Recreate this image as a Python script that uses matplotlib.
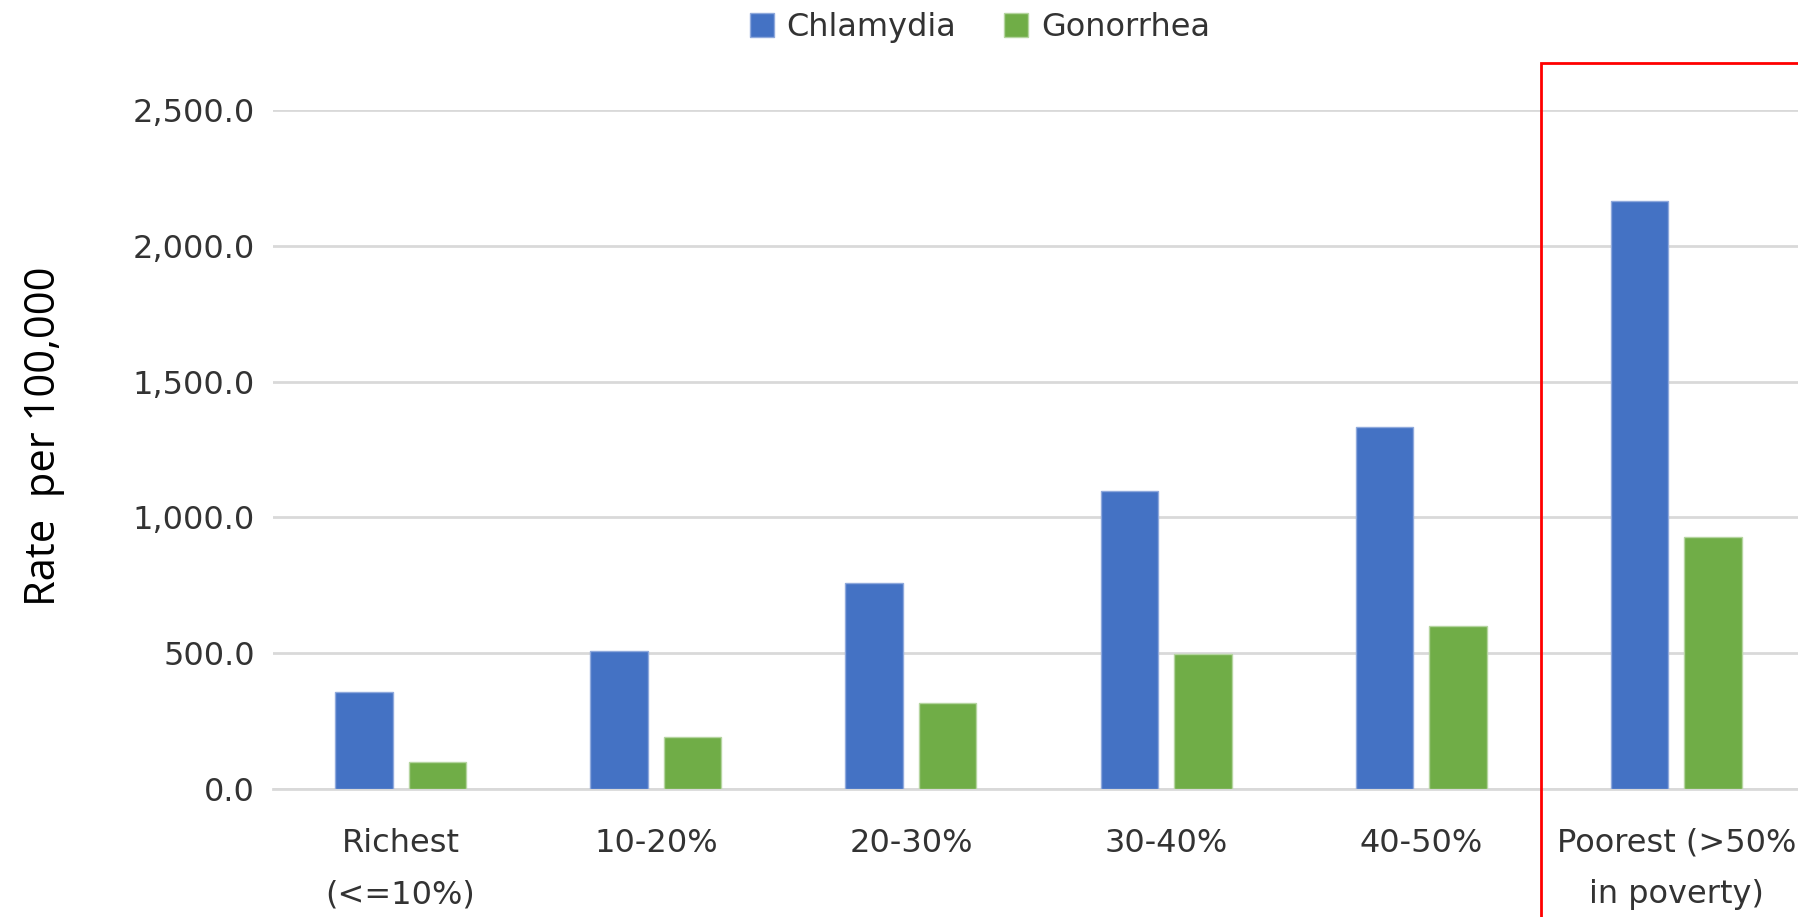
"""
Chlamydia and gonorrhea rates per 100,000 by neighbourhood poverty level.
"""

import matplotlib.pyplot as plt
import matplotlib.transforms as mtransforms
import numpy as np
from matplotlib.patches import Rectangle

categories = ["Richest\n(<=10%)", "10-20%", "20-30%", "30-40%", "40-50%", "Poorest (>50%\nin poverty)"]
chlamydia = [358, 507, 760, 1098, 1334, 2166]
gonorrhea = [101, 190, 317, 498, 600, 929]
y_ticks = [0, 500, 1000, 1500, 2000, 2500]

BLUE = "#4472C4"
GREEN = "#70AD47"
TICK_COLOR = "#333333"

fig = plt.figure(figsize=(17.98, 9.17), dpi=100)
# axes runs slightly past the right edge, like the cropped original
ax = fig.add_axes([273 / 1798, 1 - 789 / 917, 1531 / 1798, 679 / 917])

x = np.arange(len(categories))
bar_w = 0.225
offset = 0.144
ax.bar(x - offset, chlamydia, width=bar_w, color=BLUE, edgecolor="#8FA9DC",
       linewidth=1, label="Chlamydia", zorder=3)
ax.bar(x + offset, gonorrhea, width=bar_w, color=GREEN, edgecolor="#B5D5A0",
       linewidth=1, label="Gonorrhea", zorder=3)

ax.set_xlim(-0.5, len(categories) - 0.5)
ax.set_ylim(0, 2500)
ax.set_yticks(y_ticks)
ax.set_yticklabels([f"{v:,.1f}" for v in y_ticks])
ax.set_xticks(x)
ax.set_xticklabels(categories, linespacing=1.85)

ax.grid(axis="y", color="#D9D9D9", linewidth=2, zorder=0)
ax.set_axisbelow(True)
for side in ["top", "right", "left"]:
    ax.spines[side].set_visible(False)
ax.spines["bottom"].set_color("#D9D9D9")
ax.spines["bottom"].set_linewidth(2)

ax.tick_params(axis="y", length=0, pad=13, labelsize=23, labelcolor=TICK_COLOR)
ax.tick_params(axis="x", length=0, pad=28, labelsize=23, labelcolor=TICK_COLOR)

ax.set_ylabel("Rate  per 100,000", fontsize=30, family="Open Sans", color="black")
ax.yaxis.set_label_coords(-0.136, 0.52)

fig.legend(
    loc="upper center",
    bbox_to_anchor=(0.545, 1.018),
    ncol=2,
    frameon=False,
    fontsize=23,
    handlelength=0.75,
    handleheight=0.75,
    handletextpad=0.4,
    columnspacing=1.5,
    labelcolor=TICK_COLOR,
)

# red highlight around the poorest group
trans = mtransforms.blended_transform_factory(ax.transData, fig.transFigure)
box = Rectangle(
    (4.47, -0.05), 2.0, 1.05 - 63 / 917,
    transform=trans, fill=False, edgecolor="red", linewidth=2, clip_on=False,
)
fig.add_artist(box)

fig.savefig("out.png", dpi=100)
